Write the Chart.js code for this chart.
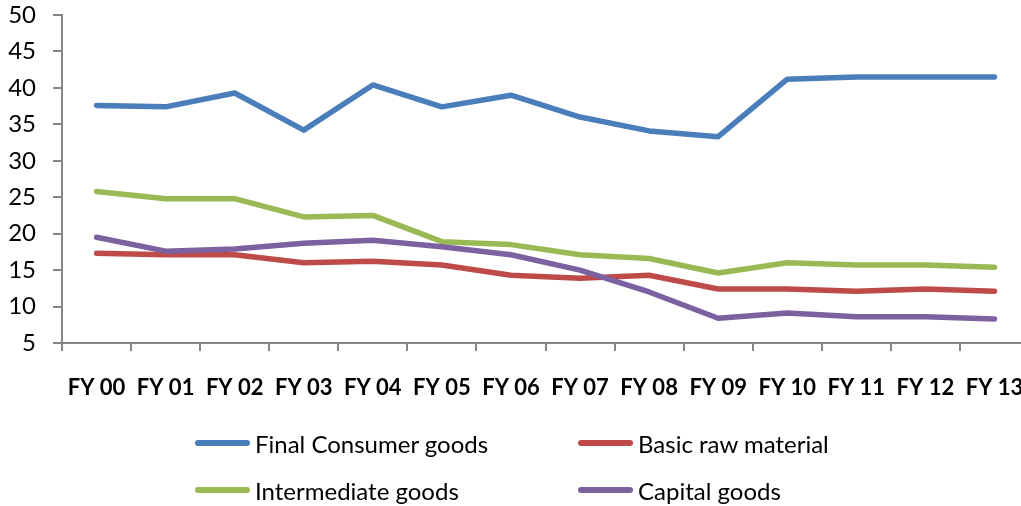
<!DOCTYPE html>
<html>
<head>
<meta charset="utf-8">
<script src="https://cdn.jsdelivr.net/npm/chart.js@4.4.0/dist/chart.umd.min.js"></script>
<style>
  body { margin: 0; background: #fff; overflow: hidden; width: 1021px; height: 506px; position: relative; font-family: Lato, "Open Sans", sans-serif; }
  #wrap { position: absolute; left: 0; top: 0; width: 1032px; height: 506px; }
  #legend { position: absolute; left: 0; top: 0; width: 1021px; height: 506px; pointer-events: none; }
  .item { position: absolute; display: flex; align-items: center; font-size: 24px; color: #000; white-space: nowrap; }
  .swatch { width: 55px; height: 6px; border-radius: 3px; margin-right: 5px; }
</style>
</head>
<body>
<div id="wrap"><canvas id="tradeChart" width="1032" height="506"></canvas></div>
<div id="legend"></div>
<script>
// categories
var years = ['FY 00', 'FY 01', 'FY 02', 'FY 03', 'FY 04', 'FY 05', 'FY 06', 'FY 07', 'FY 08', 'FY 09', 'FY 10', 'FY 11', 'FY 12', 'FY 13'];

// series
var finalConsumer = [37.6, 37.4, 39.3, 34.2, 40.4, 37.4, 39.0, 36.0, 34.1, 33.3, 41.2, 41.5, 41.5, 41.5];
var basicRaw      = [17.3, 17.1, 17.1, 16.0, 16.2, 15.7, 14.3, 13.9, 14.3, 12.4, 12.4, 12.1, 12.4, 12.1];
var intermediate  = [25.8, 24.8, 24.8, 22.3, 22.5, 18.9, 18.5, 17.1, 16.6, 14.6, 16.0, 15.7, 15.7, 15.4];
var capital       = [19.5, 17.6, 17.9, 18.7, 19.1, 18.2, 17.1, 15.0, 12.0, 8.4, 9.1, 8.6, 8.6, 8.3];

var seriesNames = ['Final Consumer goods', 'Basic raw material', 'Intermediate goods', 'Capital goods'];
var seriesColors = ['#4A7EBB', '#BE4B48', '#98B954', '#7D60A0'];
var seriesData = [finalConsumer, basicRaw, intermediate, capital];

var axisGrey = '#868686';

var datasets = seriesNames.map(function(name, i) {
    return {
        label: name,
        data: seriesData[i],
        borderColor: seriesColors[i],
        backgroundColor: seriesColors[i],
        borderWidth: 5.5,
        borderCapStyle: 'round',
        borderJoinStyle: 'round',
        pointRadius: 0,
        tension: 0,
        fill: false
    };
});

// draw so that red sits under purple like the original
var order = [0, 2, 1, 3];
datasets.forEach(function(d, i) { d.order = 3 - order.indexOf(i); });

var tradeChart = new Chart(document.getElementById('tradeChart'), {
    type: 'line',
    data: { labels: years, datasets: datasets },
    options: {
        responsive: false,
        animation: false,
        layout: { padding: { left: 0, right: 3, top: 0, bottom: 107 } },
        plugins: {
            legend: { display: false },
            tooltip: { enabled: false }
        },
        scales: {
            x: {
                offset: true,
                grid: { offset: true, drawOnChartArea: false, drawTicks: true, tickLength: 8, color: axisGrey, lineWidth: 2 },
                border: { color: axisGrey, width: 2 },
                afterFit: function(scale) {
                    scale.height = 56;
                    scale.paddingLeft = 0;
                    scale.paddingRight = 0;
                },
                ticks: {
                    color: '#000',
                    padding: 2,
                    maxRotation: 0,
                    autoSkip: false,
                    font: { family: 'Lato', size: 22, weight: 'bold', lineHeight: 3.2 }
                }
            },
            y: {
                min: 5,
                max: 50,
                grid: { drawOnChartArea: false, drawTicks: true, tickLength: 9, color: axisGrey, lineWidth: 2 },
                border: { color: axisGrey, width: 2 },
                afterFit: function(scale) {
                    scale.width = 62;
                    scale.paddingTop = 15;
                    scale.paddingBottom = 0;
                },
                ticks: {
                    stepSize: 5,
                    color: '#000',
                    padding: 17,
                    font: { family: 'Lato', size: 24 }
                }
            }
        }
    }
});

// legend laid out in two columns like the original
var legendPos = [
    { left: 195, top: 443 },
    { left: 578, top: 443 },
    { left: 195, top: 490 },
    { left: 578, top: 490 }
];
var legendBox = document.getElementById('legend');
seriesNames.forEach(function(name, i) {
    var item = document.createElement('div');
    item.className = 'item';
    item.style.left = legendPos[i].left + 'px';
    item.style.top = (legendPos[i].top - 15) + 'px';
    item.style.height = '30px';
    var sw = document.createElement('span');
    sw.className = 'swatch';
    sw.style.background = seriesColors[i];
    var tx = document.createElement('span');
    tx.textContent = name;
    item.appendChild(sw);
    item.appendChild(tx);
    legendBox.appendChild(item);
});
</script>
</body>
</html>
